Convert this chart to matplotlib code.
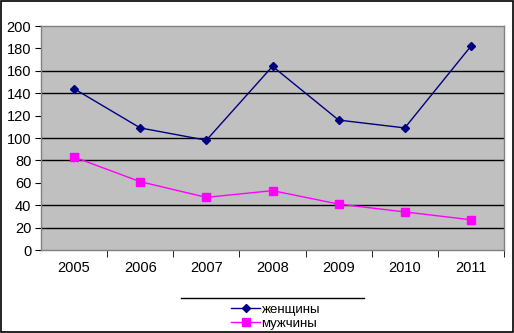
import matplotlib.pyplot as plt
from matplotlib.lines import Line2D

years = ['2005', '2006', '2007', '2008', '2009', '2010', '2011']
women = [144, 109, 98, 164, 116, 109, 182]
men = [83, 61, 47, 53, 41, 34, 27]
y_ticks = [0, 20, 40, 60, 80, 100, 120, 140, 160, 180, 200]
grid_vals = [20, 40, 80, 100, 140, 160]

plt.rcParams['font.family'] = ['Liberation Sans', 'DejaVu Sans']

W, H = 514, 333
fig = plt.figure(figsize=(W / 100, H / 100), dpi=100)
fig.patch.set_facecolor('white')

# black outer frame
fig.add_artist(plt.Rectangle((0.5 / W, 1.5 / H), (W - 2) / W, (H - 2.5) / H,
                             transform=fig.transFigure, fill=False,
                             edgecolor='black', linewidth=1.2))

ax = fig.add_axes([41 / W, (H - 250) / H, 463 / W, 224 / H])
ax.set_facecolor('#C0C0C0')
for s in ax.spines.values():
    s.set_color('#808080')
    s.set_linewidth(1)

x = list(range(len(years)))
for g in grid_vals:
    ax.axhline(g, color='black', linewidth=1, zorder=1)

ax.plot(x, women, color='#000080', linewidth=1, marker='D', markersize=3.8,
        label='женщины', zorder=3)
ax.plot(x, men, color='#FF00FF', linewidth=1, marker='s', markersize=5.5,
        label='мужчины', zorder=3)

ax.set_xlim(-0.5, len(years) - 0.5)
ax.set_ylim(0, 200)
ax.set_yticks(y_ticks)
ax.set_yticklabels([str(v) for v in y_ticks], fontsize=10.5)
ax.set_xticks(x)
ax.set_xticklabels(years, fontsize=10.5)
ax.tick_params(axis='x', length=0, pad=8)
ax.tick_params(axis='y', length=4, color='black', pad=3)
ax.set_xticks([i + 0.5 for i in range(len(years))], minor=True)
ax.tick_params(axis='x', which='minor', length=5, color='black')

leg = fig.legend(loc='upper left', bbox_to_anchor=(226 / W, 1 - 298 / H),
                 frameon=False, fontsize=9.5, handlelength=2.2,
                 handletextpad=0.1, labelspacing=0.15, borderaxespad=0)

fig.add_artist(Line2D([181 / W, 364 / W], [1 - 298 / H, 1 - 298 / H],
                      transform=fig.transFigure, color='black', linewidth=1))

fig.savefig('out.png', dpi=100)
